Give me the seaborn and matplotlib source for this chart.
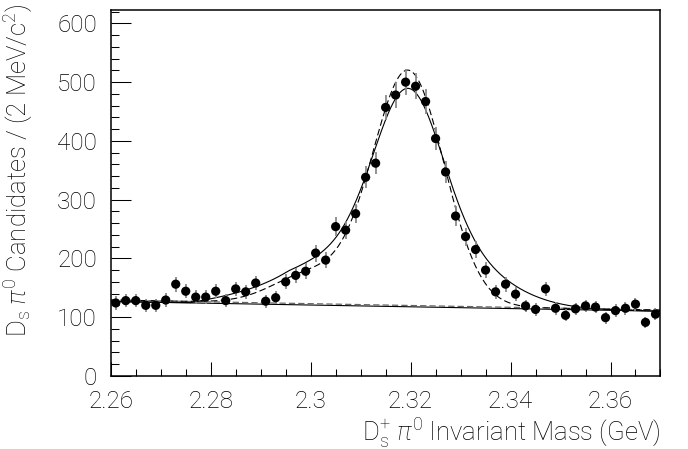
import matplotlib
matplotlib.use("Agg")
import numpy as np
import pandas as pd
import matplotlib.pyplot as plt
import matplotlib.ticker as mticker
import seaborn as sns

# ── data: D_s pi0 candidates per 2 MeV bin ────────────────────────────────────
mass = [2.261, 2.263, 2.265, 2.267, 2.269, 2.271, 2.273, 2.275, 2.277, 2.279,
        2.281, 2.283, 2.285, 2.287, 2.289, 2.291, 2.293, 2.295, 2.297, 2.299,
        2.301, 2.303, 2.305, 2.307, 2.309, 2.311, 2.313, 2.315, 2.317, 2.319,
        2.321, 2.323, 2.325, 2.327, 2.329, 2.331, 2.333, 2.335, 2.337, 2.339,
        2.341, 2.343, 2.345, 2.347, 2.349, 2.351, 2.353, 2.355, 2.357, 2.359,
        2.361, 2.363, 2.365, 2.367, 2.369]
counts = [124, 128, 128, 120, 120, 129, 156, 144, 134, 134,
          144, 128, 148, 143, 158, 127, 133, 160, 171, 178,
          209, 197, 254, 248, 276, 338, 362, 457, 478, 500,
          493, 467, 404, 347, 272, 237, 215, 180, 143, 156,
          139, 119, 113, 148, 115, 103, 114, 119, 117, 99,
          111, 115, 122, 91, 105]

# fit parameters
MU = 2.3195
# solid fit: linear bkg + double gaussian + reflection shoulder
BKG_S = (126.5, -150.0)
SIG_S = dict(amp=371.0, frac=0.6, s1=0.0065, s2=0.013)
SHO_S = dict(amp=30.0, x0=2.276, xk=2.2955, sd=0.009)
# dashed fit: linear bkg + gaussian + shoulder
BKG_D = (129.0, -155.0)
SIG_D = dict(amp=399.0, s=0.0072)
SHO_D = dict(amp=50.0, mu=2.300, sd=0.0075)

XLIM = (2.26, 2.37)
YLIM = (0, 623)

df = pd.DataFrame({"mass": mass, "counts": counts})
df["err"] = np.sqrt(df["counts"])

def gauss(x, mu, s):
    return np.exp(-0.5 * ((x - mu) / s) ** 2)

grid = np.linspace(XLIM[0], XLIM[1], 2201)
bkg_s = BKG_S[0] + BKG_S[1] * (grid - XLIM[0])
bkg_d = BKG_D[0] + BKG_D[1] * (grid - XLIM[0])
ramp = np.clip((grid - SHO_S["x0"]) / (SHO_S["xk"] - SHO_S["x0"]), 0, 1)
shoulder_s = np.where(grid <= SHO_S["xk"], ramp,
                      gauss(grid, SHO_S["xk"], SHO_S["sd"])) * SHO_S["amp"]
fit_s = (bkg_s + shoulder_s
         + SIG_S["amp"] * (SIG_S["frac"] * gauss(grid, MU, SIG_S["s1"])
                           + (1 - SIG_S["frac"]) * gauss(grid, MU, SIG_S["s2"])))
fit_d = (bkg_d + SIG_D["amp"] * gauss(grid, MU, SIG_D["s"])
         + SHO_D["amp"] * gauss(grid, SHO_D["mu"], SHO_D["sd"]))

sns.set_style("white")
FONT = "Roboto"
plt.rcParams["font.family"] = [FONT, "DejaVu Sans"]
plt.rcParams["font.weight"] = "light"
plt.rcParams["axes.labelweight"] = "light"
plt.rcParams["text.color"] = "black"
plt.rcParams["axes.labelcolor"] = "black"
plt.rcParams["mathtext.fontset"] = "custom"
plt.rcParams["mathtext.rm"] = f"{FONT}:light"
plt.rcParams["mathtext.it"] = f"{FONT}:italic:light"

fig, ax = plt.subplots(figsize=(6.88, 4.49), dpi=100)
fig.subplots_adjust(left=0.161, right=0.960, bottom=0.163, top=0.978)

# background curves
sns.lineplot(x=grid, y=bkg_s, color="black", lw=0.8, ax=ax)
sns.lineplot(x=grid, y=bkg_d, color="#666666", lw=0.9,
             linestyle=(0, (5, 2.5)), ax=ax)
# full fits
sns.lineplot(x=grid, y=fit_s, color="black", lw=0.8, ax=ax)
sns.lineplot(x=grid, y=fit_d, color="black", lw=0.8,
             linestyle=(0, (6, 3)), ax=ax)

# data with errors
ax.vlines(df["mass"], df["counts"] - df["err"], df["counts"] + df["err"],
          color="#8a8a8a", lw=1.3, zorder=3)
sns.scatterplot(data=df, x="mass", y="counts", color="black", s=44,
                edgecolor="none", zorder=4, ax=ax)

ax.set_xlim(*XLIM)
ax.set_ylim(*YLIM)
ax.xaxis.set_major_locator(mticker.MultipleLocator(0.02))
ax.xaxis.set_minor_locator(mticker.MultipleLocator(0.005))
ax.yaxis.set_major_locator(mticker.MultipleLocator(100))
ax.yaxis.set_minor_locator(mticker.MultipleLocator(20))
ax.xaxis.set_major_formatter(mticker.FuncFormatter(lambda v, p: f"{v:g}"))

ax.tick_params(axis="both", which="both", direction="in", bottom=True,
               left=True, top=False, right=False, width=0.75,
               color="black", labelcolor="black", labelsize=17.5)
ax.tick_params(axis="x", which="major", length=10, pad=10)
ax.tick_params(axis="x", which="minor", length=5)
ax.tick_params(axis="y", which="major", length=14.5, pad=10)
ax.tick_params(axis="y", which="minor", length=6)
for sp in ax.spines.values():
    sp.set_linewidth(1.1)
    sp.set_color("black")

ax.set_xlabel(r"D$_{\rm s}^{+}$ $\pi^{0}$ Invariant Mass (GeV)", fontsize=18.5,
              loc="right", va="baseline")
ax.set_ylabel(r"D$_{\rm s}$ $\pi^{0}$ Candidates / (2 MeV/c$^{2}$)", fontsize=18.5,
              loc="top")
ax.xaxis.set_label_coords(1.0, -0.178)
ax.yaxis.set_label_coords(-0.138, 1.015)

fig.savefig("out.png", dpi=100)
